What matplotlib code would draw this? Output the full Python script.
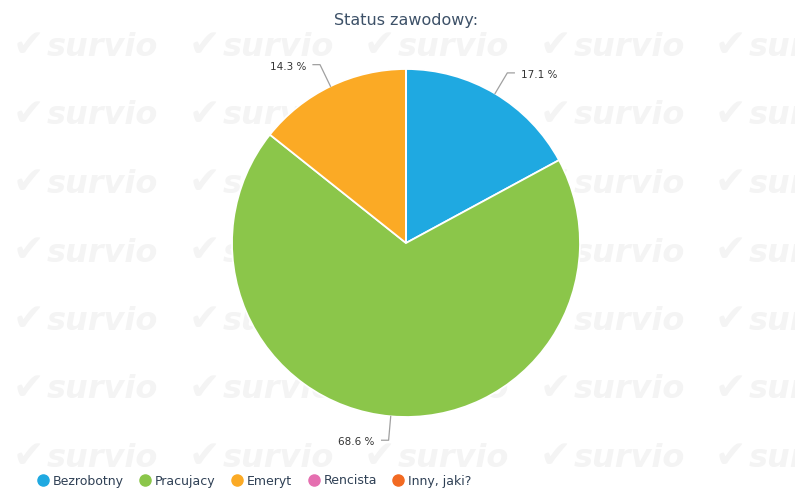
import numpy as np
import matplotlib
matplotlib.use('Agg')
import matplotlib.pyplot as plt
from matplotlib.lines import Line2D

############################################################
# Data

title = 'Status zawodowy:'
categories = ['Bezrobotny', 'Pracujacy', 'Emeryt', 'Rencista', 'Inny, jaki?']
percents = [17.1, 68.6, 14.3, 0.0, 0.0]
colors = ['#1fa9e1', '#8bc64a', '#fbaa25', '#e56fb0', '#f26a22']

############################################################
# Layout (pixels)

W, H = 795, 488
cx, cy, rad = 406, 243, 174      # pie centre and radius in px

fig = plt.figure(figsize=(W / 100, H / 100), dpi=100)
ax = fig.add_axes([0, 0, 1, 1])

# watermark tiles behind the chart
for j in range(7):
    yb = 56 + 68.5 * j
    for k in range(5):
        xl = 13 + 175.5 * k
        fig.text(xl / W, 1 - yb / H, '\u2714', fontsize=27, color='#f4f4f4',
                 ha='left', va='baseline', zorder=-2)
        fig.text((xl + 34) / W, 1 - yb / H, 'survio', fontsize=23,
                 fontweight='bold', fontstyle='italic', color='#f4f4f4',
                 ha='left', va='baseline', zorder=-2)

wedges, _ = ax.pie(percents, colors=colors, startangle=90, counterclock=False,
                   radius=1.0, wedgeprops=dict(edgecolor='white', linewidth=1.3))

# data units: 1 unit = rad px
u = 1.0 / rad
ax.set_xlim(-cx * u, (W - cx) * u)
ax.set_ylim(-(H - cy) * u, cy * u)
ax.set_aspect('auto')
ax.axis('off')

# labels with connectors
start = 90.0
for p in percents:
    if p <= 0:
        continue
    mid = np.deg2rad(start - p * 3.6 / 2)
    start -= p * 3.6
    x0, y0 = np.cos(mid), np.sin(mid)
    x1, y1 = (1 + 24 * u) * np.cos(mid), (1 + 24 * u) * np.sin(mid)
    side = 1 if x1 >= 0 else -1
    x2 = x1 + side * 7 * u
    ax.plot([x0, x1, x2], [y0, y1, y1], color='#a0a0a0', lw=0.9,
            solid_joinstyle='round', zorder=3)
    ax.text(x2 + side * 7 * u, y1 - 2 * u, '%.1f %%' % p, fontsize=7.5,
            color='#333333', ha='left' if side > 0 else 'right', va='center')

fig.text(406 / W, 1 - 21 / H, title, fontsize=11.5, color='#3d5168',
         ha='center', va='center')

handles = [Line2D([], [], marker='o', linestyle='none', markersize=8,
                  markerfacecolor=c, markeredgecolor=c) for c in colors]
leg = fig.legend(handles, categories, loc='center left',
                 bbox_to_anchor=(38 / W, 1 - 481 / H), ncol=5, frameon=False,
                 fontsize=9, handlelength=0.8, handletextpad=0.4,
                 columnspacing=1.3, borderpad=0, borderaxespad=0)
for t in leg.get_texts():
    t.set_color('#2f4055')

fig.savefig('out.png', dpi=100, facecolor='white')
